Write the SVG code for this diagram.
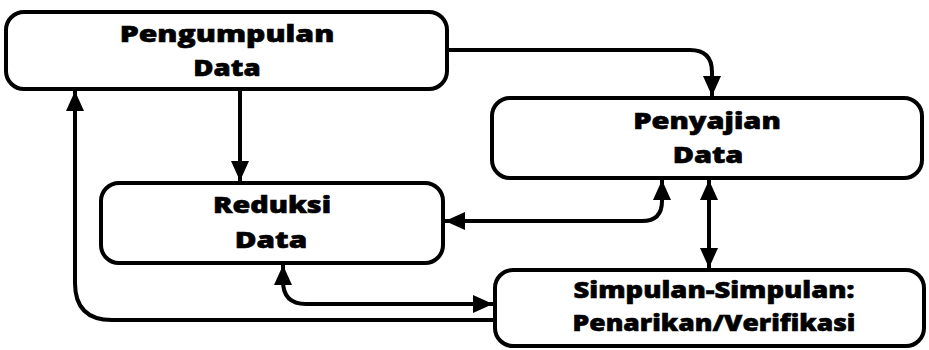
<svg xmlns="http://www.w3.org/2000/svg" width="929" height="350" viewBox="0 0 929 350">
<style>
.box{fill:#fff;stroke:#000;stroke-width:4}
.t{font-family:"Open Sans","DejaVu Sans",sans-serif;font-weight:800;font-size:23px;text-anchor:middle;fill:#000;stroke:#000;stroke-width:0.6}
.c{fill:none;stroke:#000;stroke-width:4}
</style>
<defs>
<marker id="ah" markerUnits="userSpaceOnUse" markerWidth="20" markerHeight="20" viewBox="0 0 20 20" refX="20" refY="10" orient="auto-start-reverse">
<path d="M0,1 L20,10 L0,19 Z" fill="#000"/>
</marker>
</defs>
<g id="connectors">
<path class="c" d="M447,50 H690 Q712,50 712,72 V96" marker-end="url(#ah)"/>
<path class="c" d="M240,89 V181" marker-end="url(#ah)"/>
<path class="c" d="M495,320 H112 Q75,320 75,283 V91" marker-end="url(#ah)"/>
<path class="c" d="M493,304 H306 Q283,304 283,281 V265" marker-start="url(#ah)" marker-end="url(#ah)"/>
<path class="c" d="M445,221 H642 Q662,221 662,201 V180" marker-start="url(#ah)" marker-end="url(#ah)"/>
<path class="c" d="M709,180 V268" marker-start="url(#ah)" marker-end="url(#ah)"/>
</g>
<g id="pengumpulan">
<rect class="box" x="6" y="12" width="441" height="77" rx="18"/>
<text class="t" transform="translate(227,42) scale(1.31,1)">Pengumpulan</text>
<text class="t" transform="translate(227,76) scale(1.2,1)">Data</text>
</g>
<g id="penyajian">
<rect class="box" x="492" y="98" width="430" height="80" rx="18"/>
<text class="t" transform="translate(707,129) scale(1.26,1)">Penyajian</text>
<text class="t" transform="translate(708,163) scale(1.26,1)">Data</text>
</g>
<g id="reduksi">
<rect class="box" x="101" y="183" width="342" height="80" rx="18"/>
<text class="t" transform="translate(272,213) scale(1.25,1)">Reduksi</text>
<text class="t" transform="translate(271,248) scale(1.29,1)">Data</text>
</g>
<g id="simpulan">
<rect class="box" x="495" y="270" width="429" height="76" rx="18"/>
<text class="t" transform="translate(714,298) scale(1.19,1)">Simpulan-Simpulan:</text>
<text class="t" transform="translate(714,331) scale(1.15,1)">Penarikan/Verifikasi</text>
</g>
</svg>
